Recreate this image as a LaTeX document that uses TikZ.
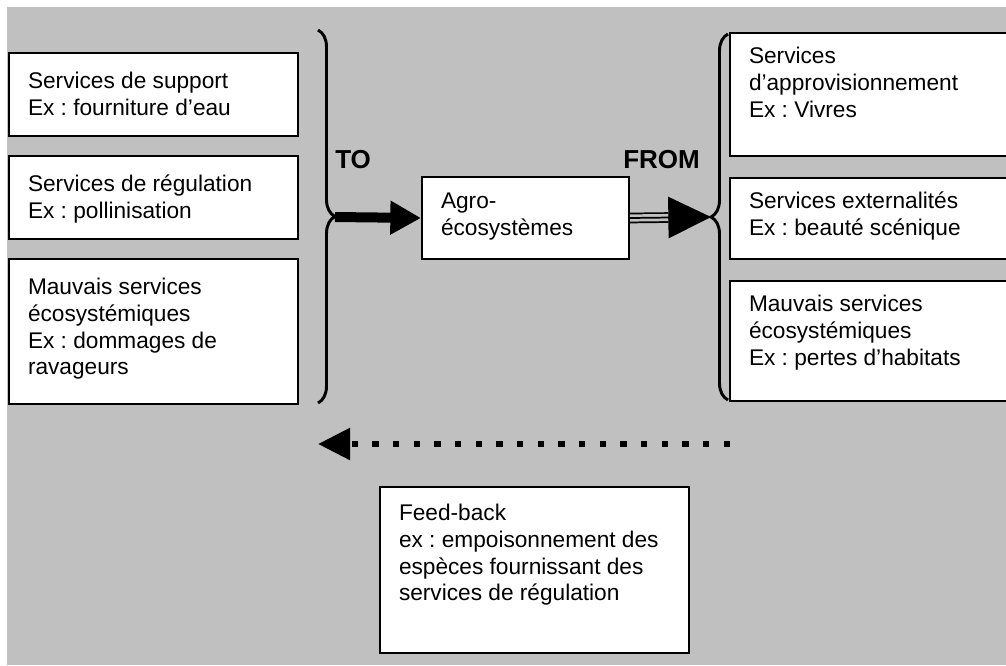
\documentclass[tikz,border=0pt]{standalone}
\usepackage{fontspec}
\setmainfont{Liberation Sans}
\usetikzlibrary{arrows.meta, decorations.pathreplacing}
\definecolor{bggray}{HTML}{C0C0C0}
\newdimen\pxu \pxu=0.75pt
\newcommand{\boxtxt}[3]{\parbox[t][#2\pxu][t]{#1\pxu}{\frenchspacing\raggedright\strut #3}}

\begin{document}
\begin{tikzpicture}[x=0.75pt, y=-0.75pt]

% Define block styles
\tikzstyle{svcbox} = [draw=black, line width=1.5pt, fill=white, anchor=north west, inner xsep=19\pxu, inner ysep=12\pxu, font=\fontsize{17}{20}\selectfont]
\tikzstyle{lbl} = [anchor=base west, inner sep=0pt, font=\bfseries\fontsize{19.5}{20}\selectfont]
\tikzstyle{brace} = [decorate, decoration={brace, amplitude=12.75pt}, line width=2.2pt]
\tikzstyle{toarrow} = [line width=7.5pt, -{Triangle[length=23pt, width=24pt]}]
\tikzstyle{tripleline} = [line width=1.3pt, double=bggray, double distance=5.4pt, shorten >=32pt]
\tikzstyle{fromarrow} = [line width=1.3pt, -{Triangle[length=32pt, width=31pt]}]
\tikzstyle{fbarrow} = [line width=4.8pt, dash pattern=on 4.8pt off 10.7pt, -{Triangle[length=24pt, width=23pt]}]

% Background
\clip (0,0) rectangle (1006,665);
\fill[white] (0,0) rectangle (1006,665);
\fill[bggray] (7,7) rectangle (1006,665);

% Left boxes
\node (supp) [svcbox, inner ysep=17\pxu] at (8,52) {\boxtxt{251}{49}{Services de support\\Ex : fourniture d’eau}};
\node (regul) [svcbox, inner ysep=17\pxu] at (8,155) {\boxtxt{251}{49}{Services de régulation\\Ex : pollinisation}};
\node (badin) [svcbox, inner ysep=17\pxu] at (8,258) {\boxtxt{251}{111}{Mauvais services\\écosystémiques\\Ex : dommages de\\ravageurs}};

% Centre
\node (agro) [svcbox, inner ysep=13\pxu] at (421,176) {\boxtxt{169}{56}{Agro-\\écosystèmes}};

% Right boxes
\node (approv) [svcbox] at (729,32) {\boxtxt{262}{99}{Services\\d’approvisionnement\\Ex : Vivres}};
\node (extern) [svcbox] at (729,177) {\boxtxt{262}{57}{Services externalités\\Ex : beauté scénique}};
\node (badout) [svcbox] at (729,280) {\boxtxt{262}{96}{Mauvais services\\écosystémiques\\Ex : pertes d’habitats}};

% Feed-back box
\node (feedb) [svcbox, inner ysep=15\pxu] at (379,486) {\boxtxt{271}{136}{Feed-back\\ex : empoisonnement des\\espèces fournissant des\\services de régulation}};

% Labels
\node (tolbl) [lbl] at (335,168) {TO};
\node (fromlbl) [lbl] at (623,168) {FROM};

% Braces
\draw [brace] (318,30) -- (318,403);
\draw [brace] (728,400) -- (728,34);
\coordinate (ltip) at (335,217);
\coordinate (rtip) at (711,217);

% Arrows
\draw [toarrow] (ltip) -- (agro.west);
\draw [tripleline] (agro.east) -- (rtip);
\draw [fromarrow] (agro.east) -- (rtip);

% Feed-back arrow
\coordinate (fbstart) at (730,444);
\coordinate (fbend) at (318,444);
\draw [fbarrow] (fbstart) -- (fbend);

\end{tikzpicture}
\end{document}
